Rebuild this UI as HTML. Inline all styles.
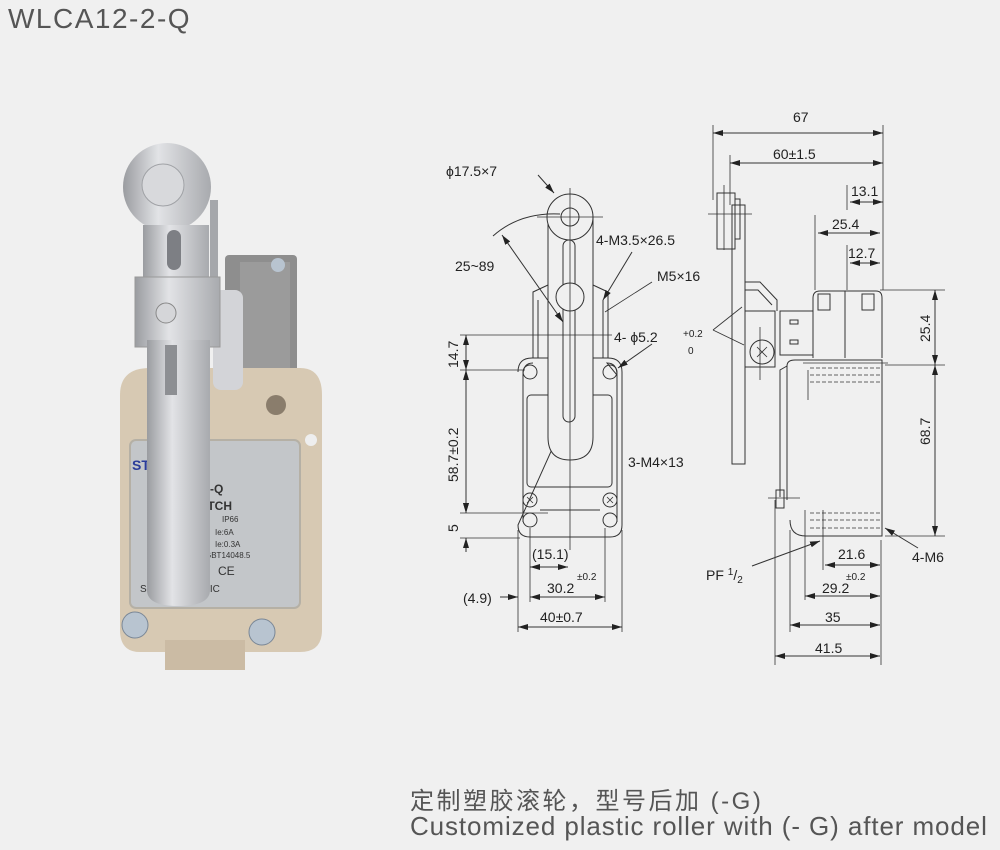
<!DOCTYPE html>
<html><head><meta charset="utf-8"><style>
html,body{margin:0;padding:0;background:#f0f0f0;}
body{width:1000px;height:850px;position:relative;overflow:hidden;font-family:"Liberation Sans","Noto Sans CJK SC",sans-serif;}
.t{position:absolute;color:#555;white-space:nowrap;}
svg{position:absolute;left:0;top:0;}
svg text{font-family:"Liberation Sans",sans-serif;fill:#222;font-size:14px;}
</style></head><body>
<div class="t" style="left:8px;top:3px;font-size:28px;letter-spacing:1.5px;color:#555;">WLCA12-2-Q</div>
<div class="t" style="left:410px;top:781px;font-size:24px;letter-spacing:2.5px;font-family:'Liberation Sans','Noto Sans CJK SC',sans-serif;">定制塑胶滚轮，型号后加 (-G)</div>
<div class="t" style="left:410px;top:811px;font-size:26px;letter-spacing:0.9px;">Customized plastic roller with (- G) after model</div>
<svg width="1000" height="850" viewBox="0 0 1000 850">
<defs>
<marker id="a" markerWidth="10" markerHeight="6" refX="10" refY="3" orient="auto-start-reverse" markerUnits="userSpaceOnUse"><path d="M0,0 L10,3 L0,6z" fill="#222"/></marker>
<linearGradient id="m" x1="0" x2="1"><stop offset="0" stop-color="#9a9ca0"/><stop offset=".4" stop-color="#e2e3e6"/><stop offset="1" stop-color="#a8aaae"/></linearGradient>
</defs>
<!-- PHOTO -->
<g>
<rect x="225" y="255" width="72" height="130" rx="4" fill="#8e8e8e"/>
<rect x="240" y="262" width="50" height="120" fill="#9b9b9b"/>
<path d="M120 395 Q120 368 150 368 L300 368 Q322 368 322 395 L322 630 Q322 652 300 652 L140 652 Q120 652 120 630 Z" fill="#d7c9b3"/>
<rect x="165" y="640" width="80" height="30" fill="#cbbba4"/>
<circle cx="276" cy="405" r="10" fill="#8a7d6c"/>
<circle cx="311" cy="440" r="6" fill="#eee"/>
<rect x="130" y="440" width="170" height="168" rx="6" fill="#c3c6c9" stroke="#b5b0a5" stroke-width="2"/>
<text x="132" y="470" style="font-size:14px;font-weight:bold;fill:#2a3c9a">STIMLE</text>
<text x="150" y="493" style="font-size:12px;font-weight:bold;fill:#333">WLCA12-2-Q</text>
<text x="150" y="510" style="font-size:12px;font-weight:bold;fill:#333">LIMIT SWITCH</text>
<text x="222" y="522" style="font-size:8px;fill:#333">IP66</text>
<text x="215" y="535" style="font-size:8px;fill:#333">Ie:6A</text>
<text x="215" y="547" style="font-size:8px;fill:#333">Ie:0.3A</text>
<text x="205" y="558" style="font-size:8px;fill:#333">GBT14048.5</text>
<text x="218" y="575" style="font-size:12px;fill:#333">CE</text>
<text x="140" y="592" style="font-size:10px;fill:#333">SPMT ELECTRIC</text>
<circle cx="167" cy="187" r="44" fill="url(#m)"/>
<circle cx="163" cy="185" r="21" fill="#d8d9dc" stroke="#a0a2a6"/>
<rect x="143" y="225" width="66" height="60" fill="url(#m)"/>
<rect x="167" y="230" width="14" height="40" rx="7" fill="#7d7f84"/>
<rect x="210" y="200" width="8" height="90" fill="#a5a7ab"/>
<rect x="213" y="290" width="30" height="100" rx="8" fill="#d3d4d8"/>
<rect x="135" y="277" width="85" height="70" fill="url(#m)" stroke="#999"/>
<circle cx="166" cy="313" r="10" fill="#d5d6d9" stroke="#888"/>
<path d="M147 340 L210 340 L210 590 Q210 606 178 606 Q147 606 147 590 Z" fill="url(#m)"/>
<rect x="165" y="345" width="12" height="50" fill="#8d8f93"/>
<circle cx="135" cy="625" r="13" fill="#b8c4d0" stroke="#7a8796"/>
<circle cx="262" cy="632" r="13" fill="#b8c4d0" stroke="#7a8796"/>
<circle cx="278" cy="265" r="7" fill="#b8c4d0"/>
</g>
<!-- FRONT VIEW -->
<g stroke="#333" stroke-width="1" fill="none">
<path d="M518 372 Q518 358 532 358 L548 358 M593 358 L608 358 Q622 358 622 372 L622 525 Q622 537 610 537 L530 537 Q518 537 518 525 Z"/>
<path d="M523 375 Q523 363 533 363 M617 375 Q617 363 607 363 L617 375 L617 522 M523 375 L523 522"/>
<rect x="527" y="395" width="85" height="92" rx="4"/>
<path d="M533 358 L533 292 L548 285 M608 358 L608 292 L593 285"/>
<path d="M538 358 L538 300 M603 358 L603 300"/>
<circle cx="530" cy="372" r="7"/><circle cx="610" cy="372" r="7"/>
<circle cx="530" cy="500" r="7"/><circle cx="610" cy="500" r="7"/>
<circle cx="530" cy="520" r="7"/><circle cx="610" cy="520" r="7"/>
<path d="M527 497 l6 6 M533 497 l-6 6 M607 497 l6 6 M613 497 l-6 6" stroke-width=".8"/>
<line x1="540" y1="510" x2="600" y2="510"/>
<path d="M548 217 L548 437 Q548 460 570 460 Q593 460 593 437 L593 217" fill="#f0f0f0"/>
<circle cx="570" cy="217" r="23" fill="#f0f0f0"/>
<circle cx="570" cy="217" r="9"/>
<rect x="563" y="240" width="12" height="182" rx="6"/>
<circle cx="570" cy="297" r="14" fill="#f0f0f0"/>
<line x1="570" y1="188" x2="570" y2="550" stroke-width=".8"/>
<line x1="537" y1="217" x2="603" y2="217" stroke-width=".8"/>
<line x1="460" y1="335" x2="612" y2="335" stroke-width=".8"/>
<line x1="460" y1="370" x2="525" y2="370" stroke-width=".8"/>
<line x1="460" y1="513" x2="548" y2="513" stroke-width=".8"/>
<line x1="460" y1="538" x2="520" y2="538" stroke-width=".8"/>
<line x1="466" y1="335" x2="466" y2="370" marker-start="url(#a)" marker-end="url(#a)"/>
<line x1="466" y1="370" x2="466" y2="513" marker-start="url(#a)" marker-end="url(#a)"/>
<line x1="466" y1="500" x2="466" y2="513" marker-end="url(#a)"/>
<line x1="466" y1="552" x2="466" y2="538" marker-end="url(#a)"/>
<line x1="518" y1="530" x2="518" y2="632" stroke-width=".8"/>
<line x1="530" y1="528" x2="530" y2="602" stroke-width=".8"/>
<line x1="605" y1="528" x2="605" y2="602" stroke-width=".8"/>
<line x1="622" y1="530" x2="622" y2="632" stroke-width=".8"/>
<line x1="530" y1="567" x2="568" y2="567" marker-start="url(#a)" marker-end="url(#a)"/>
<line x1="530" y1="597" x2="605" y2="597" marker-start="url(#a)" marker-end="url(#a)"/>
<line x1="500" y1="597" x2="518" y2="597" marker-end="url(#a)"/>
<line x1="518" y1="627" x2="622" y2="627" marker-start="url(#a)" marker-end="url(#a)"/>
<line x1="538" y1="175" x2="554" y2="193" marker-end="url(#a)"/>
<path d="M493 236 Q520 212 560 214" />
<line x1="502" y1="235" x2="563" y2="322" marker-start="url(#a)" marker-end="url(#a)"/>
<line x1="632" y1="252" x2="603" y2="300" marker-end="url(#a)"/>
<line x1="652" y1="282" x2="605" y2="312" stroke-width=".8"/>
<line x1="652" y1="344" x2="618" y2="368" marker-end="url(#a)"/>
</g>
<g>
<text x="446" y="176">ϕ17.5×7</text>
<text x="455" y="271">25~89</text>
<text x="596" y="245">4-M3.5×26.5</text>
<text x="657" y="281">M5×16</text>
<text x="614" y="342">4- ϕ5.2</text>
<text x="683" y="337" style="font-size:10px">+0.2</text>
<text x="688" y="354" style="font-size:10px">0</text>
<text x="628" y="467">3-M4×13</text>
<text x="532" y="559">(15.1)</text>
<text x="547" y="593">30.2</text>
<text x="577" y="580" style="font-size:10px">±0.2</text>
<text x="463" y="603">(4.9)</text>
<text x="540" y="622">40±0.7</text>
<text transform="translate(458,368) rotate(-90)">14.7</text>
<text transform="translate(458,482) rotate(-90)">58.7±0.2</text>
<text transform="translate(458,532) rotate(-90)">5</text>
</g>
<!-- SIDE VIEW -->
<g stroke="#333" stroke-width="1" fill="none">
<rect x="732" y="205" width="13" height="259"/>
<rect x="717" y="193" width="18" height="56"/>
<rect x="735" y="199" width="5" height="40"/>
<line x1="708" y1="214" x2="752" y2="214" stroke-width=".8"/>
<line x1="724" y1="185" x2="724" y2="250" stroke-width=".8"/>
<path d="M745 282 L760 282 L777 300 L777 311 M745 290 L758 290 L772 305"/>
<rect x="745" y="311" width="30" height="56"/>
<circle cx="762" cy="352" r="12"/>
<path d="M757 347 l10 10 M767 347 l-10 10" stroke-width=".8"/>
<line x1="760" y1="327" x2="760" y2="380" stroke-width=".8"/>
<rect x="780" y="311" width="33" height="44"/>
<rect x="790" y="320" width="8" height="4"/><rect x="790" y="340" width="8" height="4"/>
<path d="M813 358 L813 298 Q813 291 820 291 L876 291 Q882 291 882 298 L882 358"/>
<line x1="845" y1="291" x2="845" y2="358"/>
<rect x="818" y="294" width="12" height="16"/><rect x="862" y="294" width="12" height="16"/>
<path d="M787 500 L787 366 Q787 360 795 360 L882 360 L882 505 L882 536 L806 536 Q790 536 790 520"/>
<path d="M780 497 L780 370 L787 366"/>
<rect x="776" y="490" width="8" height="18"/>
<line x1="768" y1="498" x2="800" y2="498" stroke-width=".8"/>
<path d="M810 368 L882 368 M810 375 L882 375 M810 382 L882 382 M810 513 L882 513 M810 520 L882 520 M810 528 L882 528" stroke-dasharray="4,2" stroke-width=".8"/>
<line x1="808" y1="370" x2="808" y2="400" stroke-width=".8"/>
<line x1="803" y1="363" x2="888" y2="363" stroke-width=".8"/>
<line x1="713" y1="125" x2="713" y2="200" stroke-width=".8"/>
<line x1="730" y1="155" x2="730" y2="205" stroke-width=".8"/>
<line x1="883" y1="125" x2="883" y2="290" stroke-width=".8"/>
<line x1="847" y1="185" x2="847" y2="210" stroke-width=".8"/>
<line x1="815" y1="215" x2="815" y2="290" stroke-width=".8"/>
<line x1="847" y1="245" x2="847" y2="290" stroke-width=".8"/>
<line x1="713" y1="133" x2="883" y2="133" marker-start="url(#a)" marker-end="url(#a)"/>
<line x1="730" y1="163" x2="883" y2="163" marker-start="url(#a)" marker-end="url(#a)"/>
<line x1="850" y1="202" x2="883" y2="202" marker-start="url(#a)" marker-end="url(#a)"/>
<line x1="818" y1="233" x2="880" y2="233" marker-start="url(#a)" marker-end="url(#a)"/>
<line x1="850" y1="263" x2="880" y2="263" marker-start="url(#a)" marker-end="url(#a)"/>
<line x1="880" y1="290" x2="945" y2="290" stroke-width=".8"/>
<line x1="885" y1="365" x2="945" y2="365" stroke-width=".8"/>
<line x1="885" y1="536" x2="945" y2="536" stroke-width=".8"/>
<line x1="935" y1="290" x2="935" y2="365" marker-start="url(#a)" marker-end="url(#a)"/>
<line x1="935" y1="365" x2="935" y2="536" marker-start="url(#a)" marker-end="url(#a)"/>
<line x1="775" y1="500" x2="775" y2="665" stroke-width=".8"/>
<line x1="790" y1="530" x2="790" y2="632" stroke-width=".8"/>
<line x1="805" y1="510" x2="805" y2="600" stroke-width=".8"/>
<line x1="823" y1="510" x2="823" y2="570" stroke-width=".8"/>
<line x1="881" y1="540" x2="881" y2="665" stroke-width=".8"/>
<line x1="825" y1="565" x2="880" y2="565" marker-start="url(#a)" marker-end="url(#a)"/>
<line x1="805" y1="596" x2="880" y2="596" marker-start="url(#a)" marker-end="url(#a)"/>
<line x1="790" y1="625" x2="880" y2="625" marker-start="url(#a)" marker-end="url(#a)"/>
<line x1="775" y1="656" x2="880" y2="656" marker-start="url(#a)" marker-end="url(#a)"/>
<line x1="752" y1="566" x2="820" y2="541" marker-end="url(#a)"/>
<line x1="918" y1="548" x2="885" y2="528" marker-end="url(#a)"/>
<line x1="713" y1="330" x2="744" y2="345" stroke-width=".8"/>
<line x1="713" y1="330" x2="742" y2="307" stroke-width=".8"/>
</g>
<g>
<text x="793" y="122">67</text>
<text x="773" y="159">60±1.5</text>
<text x="851" y="196">13.1</text>
<text x="832" y="229">25.4</text>
<text x="848" y="258">12.7</text>
<text transform="translate(930,342) rotate(-90)">25.4</text>
<text transform="translate(930,445) rotate(-90)">68.7</text>
<text x="838" y="559">21.6</text>
<text x="846" y="580" style="font-size:10px">±0.2</text>
<text x="822" y="593">29.2</text>
<text x="825" y="622">35</text>
<text x="815" y="653">41.5</text>
<text x="706" y="580">PF <tspan dy="-5" style="font-size:10px">1</tspan><tspan dy="5">/</tspan><tspan dy="3" style="font-size:10px">2</tspan></text>
<text x="912" y="562">4-M6</text>
</g>
</svg>
</body></html>
